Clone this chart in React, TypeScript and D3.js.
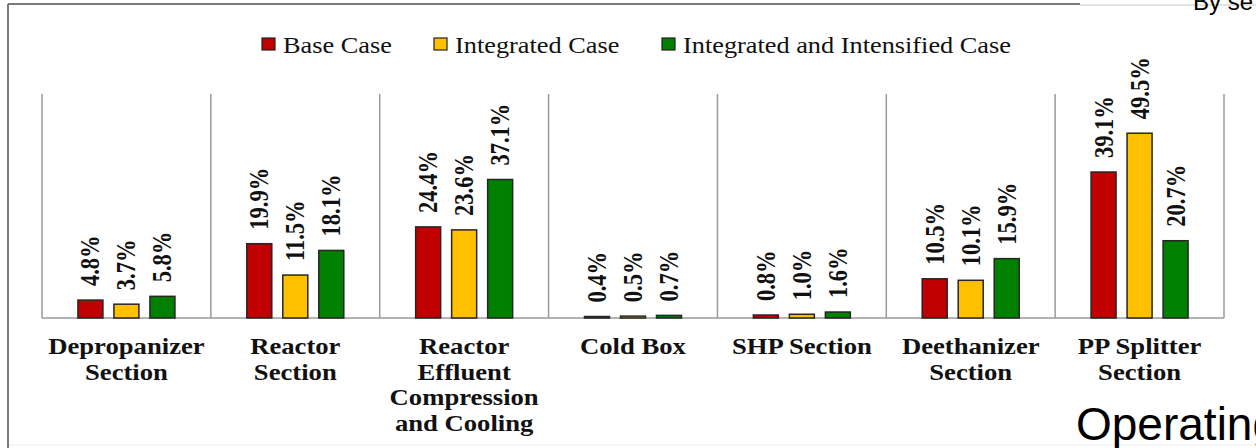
import React from "react";
import * as d3 from "d3";

const categories: string[][] = [
  ["Depropanizer", "Section"],
  ["Reactor", "Section"],
  ["Reactor", "Effluent", "Compression", "and Cooling"],
  ["Cold Box"],
  ["SHP Section"],
  ["Deethanizer", "Section"],
  ["PP Splitter", "Section"],
];
const seriesNames = ["Base Case", "Integrated Case", "Integrated and Intensified Case"];
const seriesColors = ["#C00000", "#FFC000", "#008000"];
const baseCase = [4.8, 19.9, 24.4, 0.4, 0.8, 10.5, 39.1];
const integratedCase = [3.7, 11.5, 23.6, 0.5, 1.0, 10.1, 49.5];
const intensifiedCase = [5.8, 18.1, 37.1, 0.7, 1.6, 15.9, 20.7];
const seriesValues = [baseCase, integratedCase, intensifiedCase];

const W = 1256;
const H = 448;
const SX = 1.17; // horizontal stretch of the source picture
const serif = "'Liberation Serif', 'Times New Roman', serif";
const sans = "'Liberation Sans', Arial, sans-serif";

export default function App() {
  const x = d3
    .scaleBand<number>()
    .domain(d3.range(categories.length))
    .range([42, 1224])
    .paddingInner(0)
    .paddingOuter(0);
  const bw = x.bandwidth();
  const inner = d3
    .scaleBand<number>()
    .domain(d3.range(seriesNames.length))
    .range([bw / 2 - 48.5, bw / 2 + 48.5])
    .paddingInner(11 / 36)
    .paddingOuter(0);
  const y = d3.scaleLinear().domain([0, 60]).range([318, 94]);
  const legendX = [262, 434, 662];

  return (
    <svg
      width={W}
      height={H}
      style={{ position: "absolute", left: 0, top: 0, background: "#fff" }}
    >
      <rect x={0} y={0} width={W} height={H} fill="#fff" />
      {/* frame */}
      <line x1={8} y1={4} x2={1080} y2={4} stroke="#7a7a7a" strokeWidth={2} />
      <line x1={1080} y1={5} x2={W} y2={5} stroke="#d8d8d8" strokeWidth={1.5} />
      <line x1={8} y1={4} x2={8} y2={H} stroke="#7a7a7a" strokeWidth={2} />
      <line x1={9} y1={445} x2={W} y2={445} stroke="#efefef" strokeWidth={1} />
      <text x={1193} y={10} fontFamily={sans} fontSize={24} fill="#000">
        By se
      </text>

      {/* legend */}
      {seriesNames.map((name, i) => (
        <g key={name}>
          <rect
            x={legendX[i]}
            y={38}
            width={13}
            height={12}
            fill={seriesColors[i]}
            stroke="#222"
            strokeWidth={1.2}
          />
          <g transform={`translate(${legendX[i] + 21},53) scale(${SX},1)`}>
            <text x={0} y={0} fontFamily={serif} fontSize={22.5} fill="#111">
              {name}
            </text>
          </g>
        </g>
      ))}

      {/* separators */}
      {d3.range(categories.length + 1).map((i) => {
        const xx = i < categories.length ? (x(i) as number) : 1224;
        return (
          <line
            key={i}
            x1={xx}
            x2={xx}
            y1={y(60)}
            y2={y(0)}
            stroke="#9a9a9a"
            strokeWidth={1.5}
          />
        );
      })}
      <line x1={42} x2={1224} y1={y(0)} y2={y(0)} stroke="#9a9a9a" strokeWidth={1.5} />

      {/* bars */}
      {categories.map((_, ci) =>
        seriesValues.map((vals, si) => {
          const bx = (x(ci) as number) + (inner(si) as number);
          const v = vals[ci];
          const top = y(v);
          const cx = bx + inner.bandwidth() / 2;
          return (
            <g key={`${ci}-${si}`}>
              <rect
                x={bx}
                y={top}
                width={inner.bandwidth()}
                height={y(0) - top}
                fill={seriesColors[si]}
                stroke="#262626"
                strokeWidth={1.5}
              />
              <g transform={`translate(${cx},${top - 14}) scale(${SX},1) rotate(-90)`}>
                <text
                  x={0}
                  y={0}
                  dy="0.34em"
                  fontFamily={serif}
                  fontWeight="bold"
                  fontSize={22.5}
                  fill="#111"
                >
                  {v.toFixed(1) + "%"}
                </text>
              </g>
            </g>
          );
        })
      )}

      {/* category labels */}
      {categories.map((lines, ci) => {
        const cx = (x(ci) as number) + bw / 2;
        return lines.map((ln, li) => (
          <g key={`${ci}-${li}`} transform={`translate(${cx},${354 + li * 25.5}) scale(${SX},1)`}>
            <text
              x={0}
              y={0}
              textAnchor="middle"
              fontFamily={serif}
              fontWeight="bold"
              fontSize={22.8}
              fill="#111"
            >
              {ln}
            </text>
          </g>
        ));
      })}

      <text x={1076} y={440} fontFamily={sans} fontSize={46} fill="#000">
        Operating
      </text>
    </svg>
  );
}
